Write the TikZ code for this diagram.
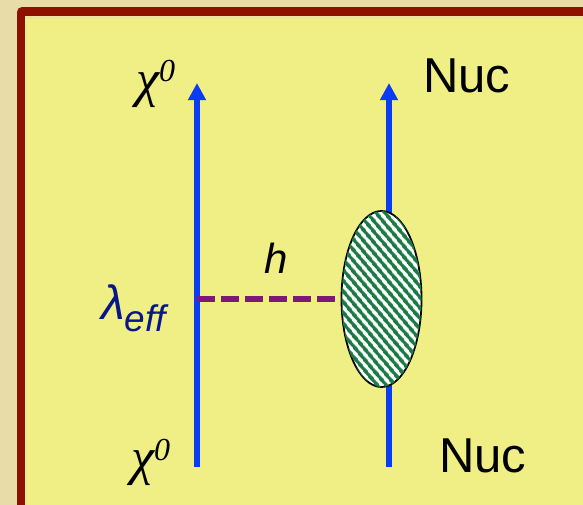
\documentclass[tikz,border=0pt]{standalone}
\usepackage{fontspec}
\setmainfont{Liberation Sans}
\newfontfamily\greekserif{Liberation Serif}
\usepackage{xcolor}
\definecolor{FRtan}{HTML}{E8DCA8}
\definecolor{FRred}{HTML}{8E1000}
\definecolor{FRyellow}{HTML}{EFEF85}
\definecolor{FRblue}{HTML}{0A3CF5}
\definecolor{FRnavy}{HTML}{08168A}
\definecolor{FRpurple}{HTML}{7A1A78}
\definecolor{FRgreen}{HTML}{1B7A44}
\usetikzlibrary{arrows.meta,shapes.geometric,patterns.meta}

\begin{document}
\begin{tikzpicture}[x=1pt,y=-1pt,
  leg/.style={draw=FRblue,line width=5.5pt,-{Triangle[length=17pt,width=17pt]}},
  prop/.style={draw=FRpurple,line width=5.5pt,dash pattern=on 18pt off 6pt},
  blob/.style={ellipse,draw=black,line width=1.8pt,fill=white,
    postaction={pattern={Lines[angle=-50,distance=6.5pt,line width=3.5pt]},pattern color=FRgreen},
    minimum width=80pt,minimum height=176pt,inner sep=0pt},
  lbl/.style={anchor=base west,inner sep=0pt},
  greek/.style={font=\greekserif\itshape\fontsize{52}{52}\selectfont},
  big/.style={font=\fontsize{49}{49}\selectfont}]
\useasboundingbox (0,0) rectangle (583,504);
\fill[FRtan] (-10,-10) rectangle (600,520);
\fill[FRred,rounded corners=5pt] (17,7) rectangle (620,540);
\fill[FRtan!60!FRyellow] (25,16) rectangle (620,540);
\fill[FRyellow] (25,19) rectangle (620,540);
\coordinate (chiIn) at (197,467);
\coordinate (chiOut) at (197,83);
\coordinate (vtx) at (197,299);
\coordinate (nucIn) at (389,467);
\coordinate (nucOut) at (389,83);
\draw[leg] (chiIn) -- (chiOut);
\draw[leg] (nucIn) -- (nucOut);
\node[blob] (core) at (381.5,299) {};
\draw[prop] (vtx) -- (core.west);
\node[lbl,greek] (chiTop) at (136,96) {χ\raisebox{15pt}{\fontsize{32}{32}\selectfont 0}};
\node[lbl,greek] (chiBot) at (131,474) {χ\raisebox{14pt}{\fontsize{32}{32}\selectfont 0}};
\node[lbl,big] (nucTop) at (423,92) {Nuc};
\node[lbl,big] (nucBot) at (439,472) {Nuc};
\node[lbl,font=\itshape\fontsize{42}{42}\selectfont] (hLab) at (264,273) {h};
\node[lbl,text=FRnavy,font=\itshape\fontsize{48}{48}\selectfont] (lamLab) at (101,319)
  {λ\raisebox{-12pt}{\fontsize{37}{37}\selectfont eff}};
\end{tikzpicture}
\end{document}
